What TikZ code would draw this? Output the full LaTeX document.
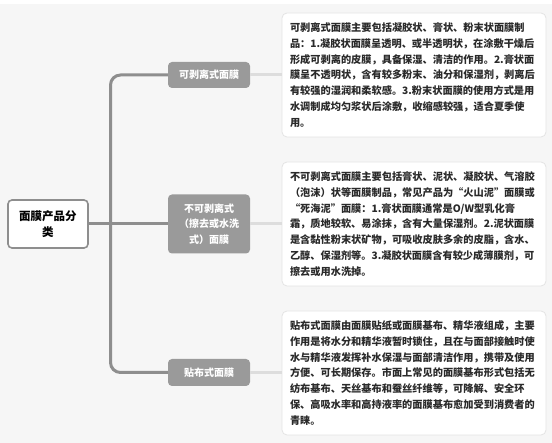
\documentclass[tikz,border=0pt]{standalone}
\usepackage{fontspec}
\newfontfamily\cjk{Noto Sans CJK SC}
\definecolor{bgc}{HTML}{F6F6F6}
\definecolor{trunkc}{HTML}{8E8E8E}
\definecolor{branchc}{HTML}{9A9A9A}
\definecolor{leafline}{HTML}{DDDDDD}
\definecolor{leafborder}{HTML}{E4E4E4}
\definecolor{txt}{HTML}{2A2A2A}
\tikzset{
  rootbox/.style={draw=trunkc, line width=1.6pt, fill=white, rounded corners=4pt,
    minimum width=80pt, minimum height=48pt, align=center, inner sep=2pt,
    font=\cjk\bfseries\fontsize{11.5}{16}\selectfont, text=black},
  branchbox/.style={fill=branchc, rounded corners=4pt, minimum width=82pt,
    align=center, inner sep=2pt, text=white,
    font=\cjk\bfseries\fontsize{10}{15.5}\selectfont},
  leafbox/.style={draw=leafborder, line width=0.8pt, fill=white, rounded corners=5pt,
    text width=248pt, inner xsep=8pt, minimum height=124pt, align=left,
    text=txt, font=\cjk\bfseries\fontsize{10.2}{15.8}\selectfont},
  trunk/.style={draw=trunkc, line width=3pt},
  leafconn/.style={draw=leafline, line width=3pt},
}
\begin{document}
\begin{tikzpicture}[x=1pt,y=-1pt]
\fill[bgc] (0,0) rectangle (552,443);
\fill[white] (0,0) rectangle (552,4);
\useasboundingbox (0,0) rectangle (552,443);

\node[rootbox] (root) at (48,224) {面膜产品分\\类};
\coordinate (j) at (110.5,224);

\node[branchbox, minimum height=26pt] (b1) at (209,75) {可剥离式面膜};
\node[branchbox, minimum height=59pt] (b2) at (209,224) {不可剥离式\\（擦去或水洗\\式）面膜};
\node[branchbox, minimum height=27pt] (b3) at (209,372.5) {贴布式面膜};

\node[leafbox] (t1) at (414,75) {可剥离式面膜主要包括凝胶状、膏状、粉末状面膜制\\品：1.凝胶状面膜呈透明、或半透明状，在涂敷干燥后\\形成可剥离的皮膜，具备保湿、清洁的作用。2.膏状面\\膜呈不透明状，含有较多粉末、油分和保湿剂，剥离后\\有较强的湿润和柔软感。3.粉末状面膜的使用方式是用\\水调制成均匀浆状后涂敷，收缩感较强，适合夏季使\\用。};
\node[leafbox] (t2) at (414,224) {不可剥离式面膜主要包括膏状、泥状、凝胶状、气溶胶\\（泡沫）状等面膜制品，常见产品为“火山泥”面膜或\\“死海泥”面膜：1.膏状面膜通常是O/W型乳化膏\\霜，质地较软、易涂抹，含有大量保湿剂。2.泥状面膜\\是含黏性粉末状矿物，可吸收皮肤多余的皮脂，含水、\\乙醇、保湿剂等。3.凝胶状面膜含有较少成薄膜剂，可\\擦去或用水洗掉。};
\node[leafbox] (t3) at (414,373) {贴布式面膜由面膜贴纸或面膜基布、精华液组成，主要\\作用是将水分和精华液暂时锁住，且在与面部接触时使\\水与精华液发挥补水保湿与面部清洁作用，携带及使用\\方便、可长期保存。市面上常见的面膜基布形式包括无\\纺布基布、天丝基布和蚕丝纤维等，可降解、安全环\\保、高吸水率和高持液率的面膜基布愈加受到消费者的\\青睐。};

\draw[trunk] (root.east) -- (b2.west);
\draw[trunk, rounded corners=10pt] (b1.west) -| (j);
\draw[trunk, rounded corners=10pt] (b3.west) -| (j);
\draw[leafconn] (b1.east) -- (t1.west |- b1.east);
\draw[leafconn] (b2.east) -- (t2.west |- b2.east);
\draw[leafconn] (b3.east) -- (t3.west |- b3.east);
\end{tikzpicture}
\end{document}
